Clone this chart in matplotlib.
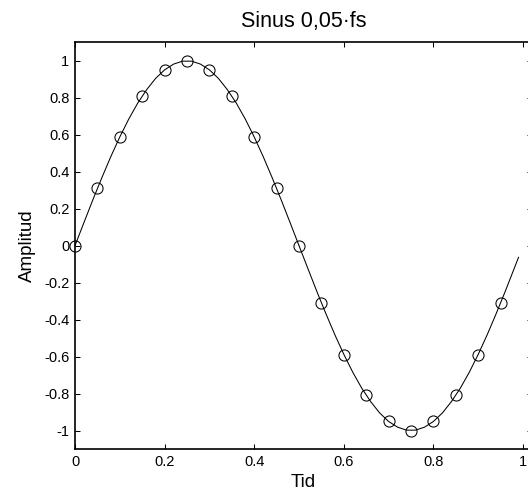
import matplotlib
matplotlib.use("Agg")
import matplotlib.pyplot as plt

plt.rcParams['font.family'] = ['Liberation Sans', 'DejaVu Sans']

# sampled points (circles)
sample_t = [0.00, 0.05, 0.10, 0.15, 0.20, 0.25, 0.30, 0.35, 0.40, 0.45,
            0.50, 0.55, 0.60, 0.65, 0.70, 0.75, 0.80, 0.85, 0.90, 0.95]
sample_y = [0.00, 0.31, 0.59, 0.81, 0.95, 1.00, 0.95, 0.81, 0.59, 0.31,
            0.00, -0.31, -0.59, -0.81, -0.95, -1.00, -0.95, -0.81, -0.59, -0.31]

# continuous signal (line)
line_t = [0.00, 0.02, 0.04, 0.06, 0.08, 0.10, 0.12, 0.14, 0.16, 0.18,
          0.20, 0.22, 0.24, 0.26, 0.28, 0.30, 0.32, 0.34, 0.36, 0.38,
          0.40, 0.42, 0.44, 0.46, 0.48, 0.50, 0.52, 0.54, 0.56, 0.58,
          0.60, 0.62, 0.64, 0.66, 0.68, 0.70, 0.72, 0.74, 0.76, 0.78,
          0.80, 0.82, 0.84, 0.86, 0.88, 0.90, 0.92, 0.94, 0.96, 0.98, 0.99]
line_y = [0.000, 0.125, 0.249, 0.368, 0.482, 0.588, 0.685, 0.771, 0.844, 0.905,
          0.951, 0.982, 0.998, 0.998, 0.982, 0.951, 0.905, 0.844, 0.771, 0.685,
          0.588, 0.482, 0.368, 0.249, 0.125, 0.000, -0.125, -0.249, -0.368, -0.482,
          -0.588, -0.685, -0.771, -0.844, -0.905, -0.951, -0.982, -0.998, -0.998, -0.982,
          -0.951, -0.905, -0.844, -0.771, -0.685, -0.588, -0.482, -0.368, -0.249, -0.125, -0.063]

xticks = [0, 0.2, 0.4, 0.6, 0.8, 1]
xtick_labels = ['0', '0.2', '0.4', '0.6', '0.8', '1']
yticks = [-1, -0.8, -0.6, -0.4, -0.2, 0, 0.2, 0.4, 0.6, 0.8, 1]
ytick_labels = ['-1', '-0.8', '-0.6', '-0.4', '-0.2', '0', '0.2', '0.4', '0.6', '0.8', '1']

fig = plt.figure(figsize=(5.28, 4.92), dpi=100)
ax = fig.add_axes([75/528, 1 - 449/492, 457/528, (449 - 42.3)/492])

ax.plot(line_t, line_y, color='black', linewidth=0.75, clip_on=False)
ax.plot(sample_t, sample_y, linestyle='none', marker='o', markersize=8,
        markerfacecolor='none', markeredgecolor='black', markeredgewidth=0.75,
        clip_on=False)

ax.set_xlim(0, 1.02)
ax.set_ylim(-1.1, 1.1)
ax.set_xticks(xticks)
ax.set_xticklabels(xtick_labels)
ax.set_yticks(yticks)
ax.set_yticklabels(ytick_labels)
ax.tick_params(direction='in', length=3.5, width=0.75, top=True, right=True,
               labelsize=10.5, pad=4)
for s in ax.spines.values():
    s.set_linewidth(1.2)

ax.set_title('Sinus 0,05·fs', fontsize=15.5, pad=11)
ax.set_xlabel('Tid', fontsize=13.5, labelpad=4)
ax.set_ylabel('Amplitud', fontsize=13.5, labelpad=6)

fig.savefig('out.png', dpi=100)
